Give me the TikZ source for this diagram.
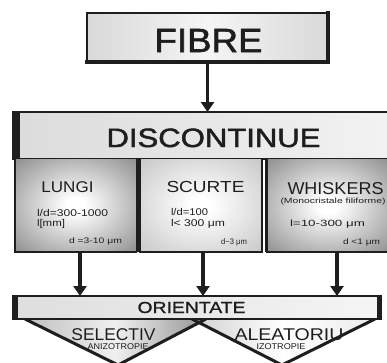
\documentclass[tikz,border=0pt]{standalone}
\usepackage{fontspec}
\setmainfont{Liberation Sans}
\newfontfamily\semib[FakeBold=1.6]{Liberation Sans}
\newfontfamily\semic[FakeBold=1.0]{Liberation Sans}
\usepackage{graphicx}
\usetikzlibrary{arrows.meta}
\definecolor{ink}{HTML}{1E1E1E}
\pgfdeclareradialshading{sqdark}{\pgfpointorigin}{color(0bp)=(white); color(4bp)=(white); color(36bp)=(black!45); color(50bp)=(black!45)}
\pgfdeclareradialshading{sqlight}{\pgfpointorigin}{color(0bp)=(white); color(4bp)=(white); color(36bp)=(black!22); color(50bp)=(black!22)}
\newcommand{\fx}[3]{{\fontsize{#1}{#1}\selectfont\resizebox{#2}{\height}{#3}}}
\newcommand{\fxb}[3]{{\semib\fontsize{#1}{#1}\selectfont\resizebox{#2}{\height}{#3}}}
\newcommand{\fxc}[3]{{\semic\fontsize{#1}{#1}\selectfont\resizebox{#2}{\height}{#3}}}
\tikzset{
  box/.style={rectangle, inner sep=0pt, outer sep=0pt, draw=none},
  txt/.style={inner sep=0pt, outer sep=0pt, text=ink},
  rim/.style={draw=ink, line width=#1, line join=miter},
  arr/.style={-{Triangle[width=13pt,length=10pt]}, line width=3.5pt, draw=ink},
}
\begin{document}
\begin{tikzpicture}[x=1pt,y=-1pt]
\useasboundingbox (0,0) rectangle (387,362);
\clip (0,0) rectangle (387,362);

% lower triangles
\coordinate (t1a) at (25,319); \coordinate (t1b) at (206,319); \coordinate (t1c) at (118,365);
\coordinate (t2a) at (192,319); \coordinate (t2b) at (375,319); \coordinate (t2c) at (282,365);
\shade[left color=black!18, right color=black!8, middle color=white] (t2a) -- (t2c) -- (t2b) -- cycle;
\shade[left color=black!25, right color=black!42, middle color=black!6] (t1a) -- (t1c) -- (t1b) -- cycle;
\draw[rim=3pt] (t1a) -- (t1c) -- (t1b);
\draw[rim=3pt] (t2a) -- (t2c) -- (t2b);

% FIBRE
\node[box, minimum width=241pt, minimum height=49pt, left color=black!15, right color=black!15, middle color=black!4] (fibre) at (207.5,37.5) {};
\draw[rim=1.2pt] (fibre.north west) rectangle (fibre.south east);
\draw[rim=3.5pt, line cap=rect] (fibre.north east) -- (fibre.south east) -- (fibre.south west);

% DISCONTINUE
\node[box, minimum width=378pt, minimum height=47pt, left color=black!14, right color=black!5, anchor=north west] (disc) at (12,112) {};
\fill[ink] (disc.north west) rectangle ([xshift=8pt]disc.south west);
\draw[rim=1.5pt] (disc.north west) -- (disc.north east);
\draw[rim=2pt] (disc.south west) -- (disc.south east);

% three boxes
\node[box, shade, shading=sqdark, minimum width=122pt, minimum height=93pt, anchor=north west] (lungi) at (15,159) {};
\node[box, shade, shading=sqlight, minimum width=122pt, minimum height=93pt, anchor=north west] (scurte) at (140,159) {};
\node[box, shade, shading=sqdark, minimum width=124pt, minimum height=93pt, anchor=north west] (whisk) at (266,159) {};
\draw[rim=2pt] (lungi.north west) -- (lungi.south west) -- (lungi.south east);
\draw[rim=3pt] (lungi.north east) -- (lungi.south east);
\draw[rim=2pt] (scurte.north west) -- (scurte.south west) -- (scurte.south east) -- (scurte.north east);
\draw[rim=3pt] (whisk.north west) -- (whisk.south west);
\draw[rim=2pt] (whisk.south west) -- (whisk.south east);

% ORIENTATE
\node[box, minimum width=370pt, minimum height=23pt, left color=black!13, right color=black!4, anchor=north west] (orient) at (12,296) {};
\fill[ink] (orient.north west) rectangle ([xshift=6pt]orient.south west);
\fill[ink] ([xshift=-5pt]orient.north east) rectangle (orient.south east);
\draw[rim=1.2pt] (orient.north west) -- (orient.north east);
\draw[rim=2pt] (orient.south west) -- (orient.south east);

% arrows
\draw[arr] (fibre.south) -- (fibre.south |- disc.north);
\coordinate (la) at ([xshift=4pt]lungi.south);
\coordinate (sa) at ([xshift=2pt]scurte.south);
\coordinate (wa) at ([xshift=9pt]whisk.south);
\draw[arr] (la) -- (la |- orient.north);
\draw[arr] (sa) -- (sa |- orient.north);
\draw[arr] (wa) -- (wa |- orient.north);

% headings
\node[txt, anchor=base] (tfibre) at (208.5,52) {\fxb{33.5}{108pt}{FIBRE}};
\node[txt, anchor=base] (tdisc) at (213.5,147) {\fxb{26.5}{214pt}{DISCONTINUE}};
\node[txt, anchor=base] (tlungi) at (67.5,192) {\fx{15.5}{52pt}{LUNGI}};
\node[txt, anchor=base] (tscurte) at (205.5,192.5) {\fx{16}{78pt}{SCURTE}};
\node[txt, anchor=base] (twhisk) at (335.5,194.5) {\fx{17.2}{96pt}{WHISKERS}};
\node[txt, anchor=base] (torient) at (191.5,313) {\fxc{16}{108pt}{ORIENTATE}};
\node[txt, anchor=base] (tsel) at (113.5,340) {\fx{17}{84pt}{SELECTIV}};
\node[txt, anchor=base] (tale) at (289,340) {\fx{17}{109pt}{ALEATORIU}};
\node[txt, anchor=base] (tanizo) at (118,349) {\fx{8.4}{61pt}{ANIZOTROPIE}};
\node[txt, anchor=base] (tizo) at (281,349) {\fx{8.4}{49pt}{IZOTROPIE}};

% small texts
\node[txt, anchor=base west] (l1) at (37,216) {\fx{9.8}{71pt}{l/d=300-1000}};
\node[txt, anchor=base west] (l2) at (37,226) {\fx{9.8}{28pt}{l[mm]}};
\node[txt, anchor=base east] (l3) at (122,243) {\fx{8}{53pt}{d =3-10 μm}};
\node[txt, anchor=base west] (s1) at (171,215) {\fx{9.8}{37pt}{l/d=100}};
\node[txt, anchor=base west] (s2) at (171,226) {\fx{9.8}{54pt}{l< 300 μm}};
\node[txt, anchor=base east] (s3) at (247,244) {\fx{8}{26pt}{d\textasciitilde3 μm}};
\node[txt, anchor=base] (w1) at (333,203.5) {\fx{7.5}{105pt}{(Monocristale filiforme)}};
\node[txt, anchor=base west] (w2) at (290,226) {\fx{9}{75pt}{l=10-300 μm}};
\node[txt, anchor=base east] (w3) at (380,244) {\fx{8}{37pt}{d <1 μm}};
\end{tikzpicture}
\end{document}
